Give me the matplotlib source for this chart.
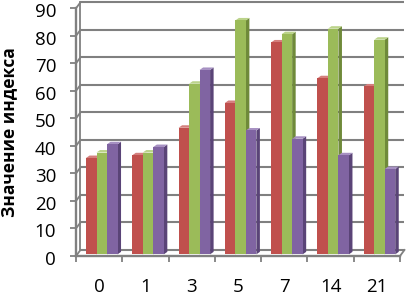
import matplotlib
matplotlib.use("Agg")
import matplotlib.pyplot as plt
from matplotlib.patches import Polygon
import matplotlib.transforms as mtransforms
import numpy as np

# ---------------------------------------------------------------------------
days   = ["0", "1", "3", "5", "7", "14", "21"]
red    = [35, 36, 46, 55, 77, 64, 61]
green  = [37, 37, 62, 85, 80, 82, 78]
purple = [40, 39, 67, 45, 42, 36, 31]
y_ticks = list(range(0, 91, 10))
y_label = "Значение индекса"

# Office 2007 palette: (front, side, top)
COLORS = [("#C0504D", "#8E3432", "#D47F7D"),
          ("#9BBB59", "#6F8A3A", "#BBD38A"),
          ("#8064A2", "#5A4477", "#A690C2")]
GRID = "#808080"

# ---------------------------------------------------------------------------
plt.rcParams["font.family"] = ["Open Sans", "DejaVu Sans"]

fig = plt.figure(figsize=(4.10, 2.97), dpi=100)
ax = fig.add_axes([76 / 410, 1 - 256 / 297, 324 / 410, 247.7 / 297])
ax.set_xlim(-0.5, 6.5)
ax.set_ylim(0, 90)
for sp in ax.spines.values():
    sp.set_visible(False)

# wall depth offset (data units)
dx, dy = 0.097, 2.2
x0, x1 = -0.5, 6.5

# back wall gridlines + side wall diagonals
for v in y_ticks:
    ax.plot([x0 + dx, x1 + dx], [v + dy, v + dy], color=GRID, lw=1.5,
            clip_on=False, zorder=1, solid_capstyle="butt")
    ax.plot([x0, x0 + dx], [v, v + dy], color=GRID, lw=1.3, clip_on=False, zorder=1)
ax.plot([x0 + dx, x0 + dx], [dy, 90 + dy], color=GRID, lw=1.3, clip_on=False, zorder=1)
# floor
ax.plot([x0, x1], [0, 0], color=GRID, lw=1.7, clip_on=False, zorder=5)
ax.plot([x1, x1 + dx], [0, dy], color=GRID, lw=1.3, clip_on=False, zorder=5)
ax.plot([x0, x0], [0, 90], color=GRID, lw=1.7, clip_on=False, zorder=5)

# bars
w = 0.227
bdx, bdy = 0.076, 0.9
lift = 0.6
idx = np.arange(len(days))
for k, (vals, (cf, cs, ct)) in enumerate(zip([red, green, purple], COLORS)):
    left = idx - 0.284 + k * w
    ax.bar(left, vals, width=w, bottom=lift, align="edge", color=cf,
           edgecolor="none", zorder=3 + k * 0.01)
    for xl, v in zip(left, vals):
        top = v + lift
        side = Polygon([(xl + w, lift), (xl + w + bdx, lift + bdy),
                        (xl + w + bdx, top + bdy), (xl + w, top)],
                       closed=True, facecolor=cs, edgecolor="none", zorder=2.9 + k * 0.01)
        lid = Polygon([(xl, top), (xl + bdx, top + bdy),
                       (xl + w + bdx, top + bdy), (xl + w, top)],
                      closed=True, facecolor=ct, edgecolor="none", zorder=2.9 + k * 0.01)
        ax.add_patch(side)
        ax.add_patch(lid)

# ticks
ax.set_yticks(y_ticks)
ax.set_yticklabels([str(v) for v in y_ticks], fontsize=13.5)
ax.tick_params(axis="y", length=4.3, width=1.3, color=GRID, pad=10, direction="out")
off = mtransforms.ScaledTranslation(0, -2 / 100, fig.dpi_scale_trans)
for lab in ax.get_yticklabels():
    lab.set_transform(lab.get_transform() + off)

ax.set_xticks(idx)
ax.set_xticklabels(days, fontsize=13.5)
ax.set_xticks(np.arange(-0.5, 7, 1), minor=True)
ax.tick_params(axis="x", which="major", length=0, pad=16)
ax.tick_params(axis="x", which="minor", length=4, width=1.3, color=GRID, direction="out")

fig.text(9 / 410, 1 - 132 / 297, y_label, rotation=90, ha="center", va="center",
         fontsize=12.5, fontweight="bold")

fig.savefig("out.png", dpi=100)
